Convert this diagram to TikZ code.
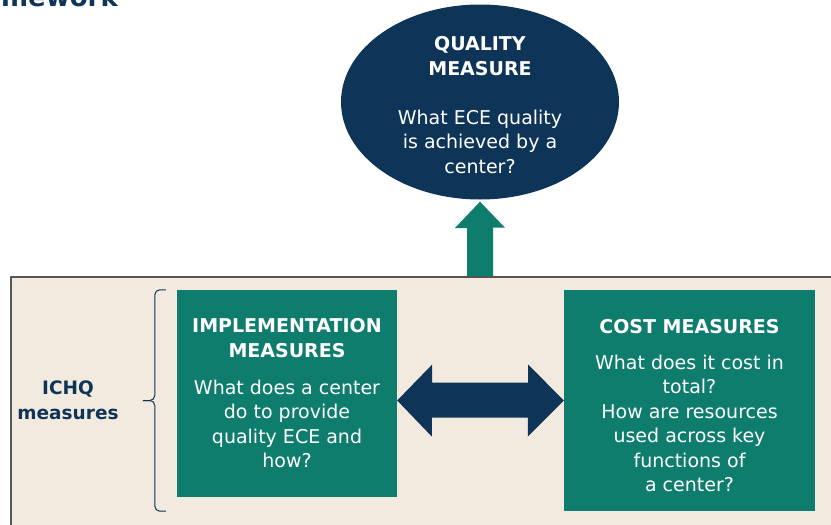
\documentclass[tikz,border=0pt]{standalone}
\usepackage{fontspec}
\setmainfont{DejaVu Sans}
\usetikzlibrary{calc,shapes.geometric}
\definecolor{ceenavy}{RGB}{14,52,88}
\definecolor{ceegreen}{RGB}{15,125,110}
\definecolor{ceebeige}{RGB}{242,234,222}
\definecolor{ceeline}{RGB}{85,85,85}

\begin{document}
\begin{tikzpicture}[x=1pt, y=-1pt, line join=round,
    bodytext/.style={text=white, align=center, inner sep=0pt, font=\fontsize{19}{24.5}\selectfont},
    measurebox/.style={bodytext, fill=ceegreen},
    qualityoval/.style={bodytext, ellipse, fill=ceenavy, minimum width=278pt, minimum height=195pt}]
  % Page frame, pixel units with y pointing down.
  \clip (0,0) rectangle (831,525);
  % Cut-off heading at the top left.
  \node[anchor=base east, inner sep=0pt, text=ceenavy, font=\bfseries\fontsize{26}{30}\selectfont] (title) at (118,6) {mework};
  % Beige panel behind the ICHQ measures.
  \node[fill=ceebeige, inner sep=0pt, minimum width=820pt, minimum height=248pt, anchor=north west] (panel) at (11,277) {};
  % The three measures.
  \node[qualityoval] (qual) at (480,102) {};
  \node[bodytext] (qualtext) at (480,105) {\textbf{QUALITY}\\\textbf{MEASURE}\\[24.5pt]What ECE quality\\is achieved by a\\center?};
  \node[measurebox, minimum width=220pt, minimum height=207pt] (impl) at (287,393.5) {\textbf{IMPLEMENTATION}\\\textbf{MEASURES}\\[12.5pt]What does a center\\do to provide\\quality ECE and\\how?};
  \node[measurebox, minimum width=251pt, minimum height=221pt] (cost) at (689.5,400.5) {};
  \node[bodytext] (costtext) at (689.5,405.5) {\textbf{COST MEASURES}\\[11.5pt]What does it cost in\\total?\\How are resources\\used across key\\functions of\\a center?};
  \node[text=ceenavy, align=center, font=\bfseries\fontsize{18.5}{25}\selectfont] (ichq) at (68,400) {ICHQ\\measures};
  % Block arrow from the panel up to the quality oval.
  \fill[ceegreen] ([yshift=-2pt]qual.south) -- ++(25,26) -- ++(-12,0)
    -- ([xshift=13pt]qual.south |- panel.north) -- ([xshift=-13pt]qual.south |- panel.north)
    -- ++(0,-49) -- ++(-12,0) -- cycle;
  % Two-way block arrow between implementation and cost.
  \fill[ceenavy] (impl.east |- cost.west) -- ++(35,-36) -- ++(0,18) -- ++(96,0) -- ++(0,-18)
    -- (cost.west) -- ++(-36,36) -- ++(0,-19) -- ++(-96,0) -- ++(0,19) -- cycle;
  % Panel edge, top and left only.
  \draw[ceeline, line width=1.2pt] (panel.south west) |- (panel.north east);
  % Brace grouping the two boxes.
  \coordinate (bracetop) at ([xshift=-11pt]impl.north west);
  \coordinate (bracebot) at (bracetop |- cost.south);
  \coordinate (bracetip) at ([xshift=-23pt]bracetop |- cost.west);
  \draw[ceenavy, line width=1pt, rounded corners=5pt] (bracetop) -- ++(-11,0) |- (bracetip);
  \draw[ceenavy, line width=1pt, rounded corners=5pt] (bracebot) -- ++(-11,0) |- (bracetip);
\end{tikzpicture}
\end{document}
